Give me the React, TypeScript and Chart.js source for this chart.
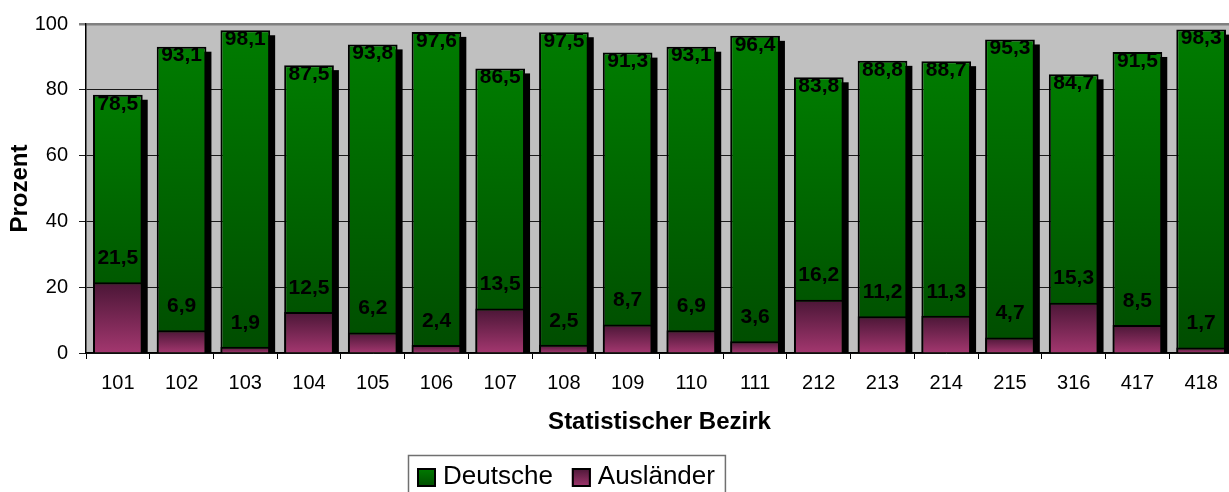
import React, { useEffect, useRef } from 'react';
import { Chart, registerables } from 'chart.js';

Chart.register(...registerables);

const categories = ['101', '102', '103', '104', '105', '106', '107', '108', '109', '110', '111', '212', '213', '214', '215', '316', '417', '418'];
const deutsche = [78.5, 93.1, 98.1, 87.5, 93.8, 97.6, 86.5, 97.5, 91.3, 93.1, 96.4, 83.8, 88.8, 88.7, 95.3, 84.7, 91.5, 98.3];
const auslaender = [21.5, 6.9, 1.9, 12.5, 6.2, 2.4, 13.5, 2.5, 8.7, 6.9, 3.6, 16.2, 11.2, 11.3, 4.7, 15.3, 8.5, 1.7];
const seriesNames = ['Deutsche', 'Ausländer'];
const yMin = 0;
const yMax = 100;
const yStep = 20;

const FONT = "'Liberation Sans', Arial, Helvetica, sans-serif";
const GREEN_TOP = '#007c00';
const GREEN_BOTTOM = '#004c00';
const PINK_TOP = '#4a1636';
const PINK_BOTTOM = '#a3376f';

const fmt = (v: number) => v.toFixed(1).replace('.', ',');

export default function App() {
  const ref = useRef<HTMLCanvasElement>(null);

  useEffect(() => {
    const canvas = ref.current;
    if (!canvas) return;

    const barGradient = (top: string, bottom: string) => (c: any) => {
      const chart = c.chart;
      const ys = chart.scales && chart.scales.y;
      if (!ys || c.type !== 'data' || c.raw == null) return bottom;
      const t = ys.getPixelForValue(c.raw);
      const b = ys.getPixelForValue(0);
      if (!isFinite(t) || !isFinite(b) || t === b) return bottom;
      const g = chart.ctx.createLinearGradient(0, t, 0, b);
      g.addColorStop(0, top);
      g.addColorStop(1, bottom);
      return g;
    };

    const bgPlugin = {
      id: 'plotBg',
      beforeDraw(chart: any) {
        const { ctx, chartArea: a } = chart;
        ctx.save();
        ctx.fillStyle = '#c0c0c0';
        ctx.fillRect(a.left, a.top, a.right - a.left, a.bottom - a.top);
        ctx.restore();
      },
    };

    const shadowPlugin = {
      id: 'barShadow',
      beforeDatasetsDraw(chart: any) {
        const { ctx } = chart;
        const meta = chart.getDatasetMeta(0);
        ctx.save();
        ctx.fillStyle = '#000';
        meta.data.forEach((el: any) => {
          const { x, y, base, width } = el.getProps(['x', 'y', 'base', 'width'], true);
          ctx.fillRect(x - width / 2 + 5, y + 5, width, base - y - 5);
        });
        ctx.restore();
      },
    };

    const labelPlugin = {
      id: 'valueLabels',
      afterDatasetsDraw(chart: any) {
        const { ctx } = chart;
        ctx.save();
        ctx.font = `bold 21px ${FONT}`;
        ctx.fillStyle = '#000';
        ctx.textAlign = 'center';
        ctx.textBaseline = 'middle';
        const m0 = chart.getDatasetMeta(0);
        m0.data.forEach((el: any, i: number) => {
          const { x, y } = el.getProps(['x', 'y'], true);
          ctx.fillText(fmt(deutsche[i]), x, y + 9);
        });
        const m1 = chart.getDatasetMeta(1);
        m1.data.forEach((el: any, i: number) => {
          const { x, y } = el.getProps(['x', 'y'], true);
          ctx.fillText(fmt(auslaender[i]), x, y - 24);
        });
        ctx.restore();
      },
    };

    const legendPlugin = {
      id: 'boxLegend',
      afterDraw(chart: any) {
        const { ctx } = chart;
        ctx.save();
        ctx.font = `26px ${FONT}`;
        const left = 408;
        const top = 455;
        const sq = 19;
        const colors = [
          [GREEN_TOP, GREEN_BOTTOM],
          [PINK_TOP, PINK_BOTTOM],
        ];
        let x = left + 9;
        const items: { sx: number; tx: number; w: number }[] = [];
        seriesNames.forEach((name) => {
          const w = ctx.measureText(name).width;
          items.push({ sx: x, tx: x + sq + 7, w });
          x = x + sq + 7 + w + 19;
        });
        const right = x - 19 + 10;
        ctx.fillStyle = '#fff';
        ctx.fillRect(left, top, right - left, 60);
        ctx.strokeStyle = '#707070';
        ctx.lineWidth = 1.5;
        ctx.strokeRect(left + 0.5, top + 0.5, right - left, 60);
        items.forEach((it, i) => {
          const sy = 468;
          const g = ctx.createLinearGradient(0, sy, 0, sy + sq);
          g.addColorStop(0, colors[i][0]);
          g.addColorStop(1, colors[i][1]);
          ctx.fillStyle = g;
          ctx.fillRect(it.sx, sy, sq, sq);
          ctx.strokeStyle = '#000';
          ctx.lineWidth = 2;
          ctx.strokeRect(it.sx + 1, sy + 1, sq - 2, sq - 2);
          ctx.fillStyle = '#000';
          ctx.textAlign = 'left';
          ctx.textBaseline = 'middle';
          ctx.fillText(seriesNames[i], it.tx, 477);
        });
        ctx.restore();
      },
    };

    const chart = new Chart(canvas, {
      type: 'bar',
      data: {
        labels: categories,
        datasets: [
          {
            label: seriesNames[0],
            data: deutsche,
            backgroundColor: barGradient(GREEN_TOP, GREEN_BOTTOM),
            borderColor: '#000',
            borderWidth: 2,
            grouped: false,
            order: 1,
            barPercentage: 0.78,
            categoryPercentage: 1,
          },
          {
            label: seriesNames[1],
            data: auslaender,
            backgroundColor: barGradient(PINK_TOP, PINK_BOTTOM),
            borderColor: '#000',
            borderWidth: 2,
            grouped: false,
            order: 0,
            barPercentage: 0.78,
            categoryPercentage: 1,
          },
        ],
      } as any,
      options: {
        responsive: false,
        animation: false,
        devicePixelRatio: 1,
        layout: { padding: { top: 24, left: 0, right: 7, bottom: 54 } },
        plugins: {
          legend: { display: false },
          tooltip: { enabled: false },
          title: { display: false },
        },
        scales: {
          x: {
            offset: true,
            grid: {
              offset: true,
              drawOnChartArea: false,
              drawTicks: true,
              tickLength: 6,
              color: '#000',
            },
            border: { color: '#000', width: 1.5 },
            ticks: {
              color: '#000',
              font: { family: FONT, size: 20 },
              padding: 12,
              maxRotation: 0,
              autoSkip: false,
            },
            title: {
              display: true,
              text: 'Statistischer Bezirk',
              color: '#000',
              font: { family: FONT, size: 24, weight: 'bold', lineHeight: 1 },
              padding: { top: 4, bottom: 4 },
            },
            afterFit(scale: any) {
              scale.height = 85;
            },
          },
          y: {
            min: yMin,
            max: yMax,
            grid: {
              color: (c: any) => (c.tick && c.tick.value === yMax ? '#808080' : '#1a1a1a'),
              lineWidth: (c: any) => (c.tick && c.tick.value === yMax ? 2.5 : 1),
              tickLength: 7,
              drawTicks: true,
            },
            border: { color: '#000', width: 1.5 },
            ticks: {
              stepSize: yStep,
              color: '#000',
              font: { family: FONT, size: 20 },
              padding: 11,
            },
            title: {
              display: true,
              text: 'Prozent',
              color: '#000',
              font: { family: FONT, size: 24, weight: 'bold', lineHeight: 1 },
              padding: { top: 8, bottom: 4 },
            },
            afterFit(scale: any) {
              scale.width = 86;
            },
          },
        },
      } as any,
      plugins: [bgPlugin, shadowPlugin, labelPlugin, legendPlugin],
    });

    return () => chart.destroy();
  }, []);

  return (
    <div style={{ position: 'absolute', left: 0, top: 0, width: 1229, height: 492, overflow: 'hidden', background: '#fff' }}>
      <canvas ref={ref} width={1240} height={492} style={{ display: 'block' }} />
    </div>
  );
}
